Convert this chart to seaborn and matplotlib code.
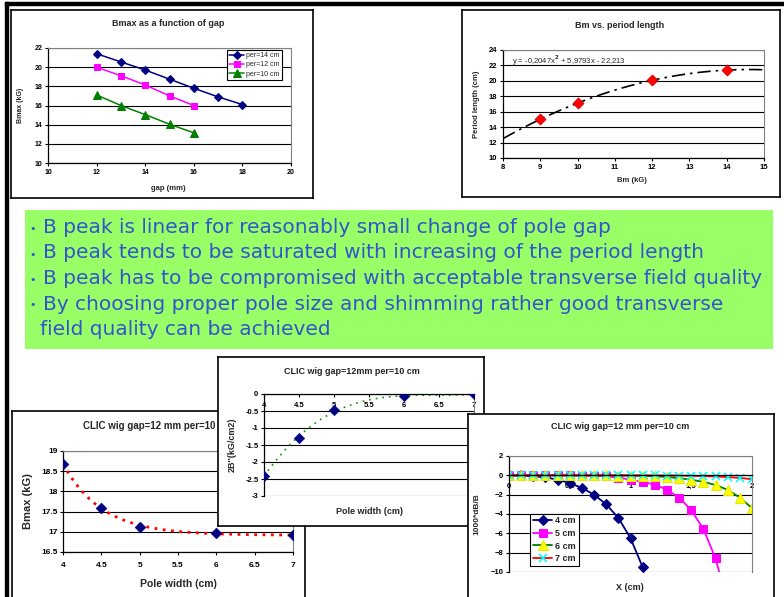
import numpy as np
import pandas as pd
import matplotlib
matplotlib.use("Agg")
import matplotlib.pyplot as plt
from matplotlib.patches import Rectangle
from matplotlib.ticker import FuncFormatter, MultipleLocator
import seaborn as sns

# ---- values ----
gap_14 = [12, 13, 14, 15, 16, 17, 18]
bmax_14 = [21.4, 20.55, 19.7, 18.75, 17.8, 16.9, 16.1]
gap_12 = [12, 13, 14, 15, 16]
bmax_12 = [20.0, 19.1, 18.15, 17.0, 16.0]
gap_10 = [12, 13, 14, 15, 16]
bmax_10 = [17.1, 16.0, 15.05, 14.05, 13.15]

bm_kg = [9, 10, 12, 14]
period_cm = [15.0, 17.15, 20.05, 21.4]
fit_text = "y = -0,2047x$^2$ + 5,9793x - 22,213"

pole_w = [4, 4.5, 5, 6, 7]
bmax_pole = [18.68, 17.6, 17.13, 16.97, 16.92]
b2_pole = [-2.4, -1.3, -0.47, -0.07, 0.0]

x_cm = [0, 0.1, 0.2, 0.3, 0.4, 0.5, 0.6, 0.7, 0.8, 0.9, 1.0,
        1.1, 1.2, 1.3, 1.4, 1.5, 1.6, 1.7, 1.8, 1.9, 2.0]
db_4cm = [0, -0.01, -0.08, -0.22, -0.45, -0.8, -1.3, -2.0, -3.0, -4.4, -6.5, -9.5, -13.9]
db_5cm = [0, 0, 0, 0, 0, -0.01, -0.02, -0.05, -0.1, -0.24, -0.45, -0.7, -0.95,
          -1.5, -2.3, -3.6, -5.55, -8.6, -13.2]
db_6cm = [0, 0, 0, 0, 0, 0, 0, 0, -0.01, -0.02, -0.03, -0.05, -0.1, -0.17,
          -0.3, -0.45, -0.68, -1.0, -1.5, -2.3, -3.4]
db_7cm = [0, 0, 0, 0, 0, 0, 0, 0, 0, 0, 0, 0, -0.01, -0.02, -0.03, -0.05,
          -0.08, -0.12, -0.18, -0.27, -0.4]

bullets = [
    "B peak is linear for reasonably small change of pole gap",
    "B peak tends to be saturated with increasing of the period length",
    "B peak has to be compromised with acceptable transverse field quality",
    "By choosing proper pole size and shimming rather good transverse",
]
bullet_tail = "field quality can be achieved"

sns.set_style("white")
plt.rcParams["font.family"] = ["Liberation Sans", "DejaVu Sans"]
plt.rcParams["font.weight"] = "bold"
plt.rcParams["axes.labelweight"] = "bold"

W, H = 784, 597
fig = plt.figure(figsize=(W / 100, H / 100), dpi=100)


def fig_rect(b):
    x0, y0, x1, y1 = b
    return [x0 / W, 1 - y1 / H, (x1 - x0) / W, (y1 - y0) / H]


def panel(box, z):
    pa = fig.add_axes(fig_rect(box), zorder=z)
    pa.set_xlim(box[0], box[2])
    pa.set_ylim(box[3], box[1])
    pa.set_xticks([])
    pa.set_yticks([])
    pa.set_facecolor("white")
    for s in pa.spines.values():
        s.set_visible(True)
        s.set_color("black")
        s.set_linewidth(1.2)
    return pa


def plot_axes(box, z, fs):
    ax = fig.add_axes(fig_rect(box), zorder=z)
    ax.set_facecolor("white")
    for k in ["left", "bottom"]:
        ax.spines[k].set_color("black")
        ax.spines[k].set_linewidth(0.9)
    for k in ["top", "right"]:
        ax.spines[k].set_color("#808080")
        ax.spines[k].set_linewidth(0.8)
    ax.yaxis.grid(True, color="black", lw=0.8)
    ax.xaxis.grid(False)
    ax.set_axisbelow(True)
    ax.tick_params(direction="out", length=2.5, width=0.8, labelsize=fs, pad=1.5,
                   bottom=True, left=True, colors="black")
    return ax


def exp_trend(x, y, n=120):
    # least squares y = a + b*exp(-k(x-x0)), k picked on a grid
    x = np.asarray(x, float)
    y = np.asarray(y, float)
    best = None
    for k in np.linspace(0.3, 6, 200):
        A = np.column_stack([np.ones(len(x)), np.exp(-k * (x - x[0]))])
        coef = np.linalg.lstsq(A, y, rcond=None)[0]
        err = np.sum((A @ coef - y) ** 2)
        if best is None or err < best[0]:
            best = (err, k, coef)
    _, k, coef = best
    xs = np.linspace(x.min(), x.max(), n)
    return xs, coef[0] + coef[1] * np.exp(-k * (xs - x[0]))


gfmt = FuncFormatter(lambda v, p: "%g" % v)

# ---- slide background ----
bg = fig.add_axes([0, 0, 1, 1], zorder=0)
bg.set_xlim(0, W)
bg.set_ylim(H, 0)
bg.axis("off")
bg.add_patch(Rectangle((5, 2), W, 3, color="black"))
bg.add_patch(Rectangle((5, 2), 3, H, color="black"))
bg.add_patch(Rectangle((25, 210), 748, 139, color="#99ff66", lw=0))
txt_kw = dict(color="#3355cc", fontweight="normal", family=["DejaVu Sans"])
for i, line in enumerate(bullets):
    yb = 233 + i * 25.5
    bg.text(33, yb - 1, "•", fontsize=8, ha="center", va="baseline", **txt_kw)
    bg.text(43, yb, line, fontsize=14.5, va="baseline", **txt_kw)
bg.text(40, 233 + 4 * 25.5, bullet_tail, fontsize=14.5, va="baseline", **txt_kw)

# ---- top left: Bmax vs gap ----
pa = panel((11, 10, 313, 198), 1)
pa.text(168, 24, "Bmax as a function of gap", fontsize=6.5, ha="center", va="center")
pa.text(21, 105, "Bmax (kG)", fontsize=5, rotation=90, ha="center", va="center")
pa.text(168, 188, "gap (mm)", fontsize=5.5, ha="center", va="center")
ax = plot_axes((48, 48, 291, 163), 2, 5)
sns.lineplot(x=gap_14, y=bmax_14, ax=ax, color="#000080", marker="D", markersize=4.5,
             markeredgecolor="#000080", lw=1.1, label="per=14 cm")
sns.lineplot(x=gap_12, y=bmax_12, ax=ax, color="#ff00ff", marker="s", markersize=5,
             markeredgecolor="#ff00ff", lw=1.1, label="per=12 cm")
sns.lineplot(x=gap_10, y=bmax_10, ax=ax, color="#008000", marker="^", markersize=5.5,
             markeredgecolor="#008000", lw=1.1, label="per=10 cm")
ax.set_xlim(10, 20)
ax.set_ylim(10, 22)
ax.xaxis.set_major_locator(MultipleLocator(2))
ax.yaxis.set_major_locator(MultipleLocator(2))
leg = ax.legend(loc="upper right", bbox_to_anchor=(0.963, 0.983), borderaxespad=0,
                fancybox=False, edgecolor="black", framealpha=1, fontsize=5,
                handlelength=2.2, borderpad=0.3, labelspacing=0.35, handletextpad=0.3)
leg.get_frame().set_linewidth(0.8)
for t in leg.get_texts():
    t.set_fontweight("normal")
ax.set_xlabel("")
ax.set_ylabel("")

# ---- top right: Bm vs period length ----
pa = panel((462, 10, 780, 197), 1)
pa.text(620, 25, "Bm vs. period length", fontsize=6.5, ha="center", va="center")
pa.text(477, 104, "Period length (cm)", fontsize=5.5, rotation=90, ha="center", va="center")
pa.text(632, 180, "Bm (kG)", fontsize=5.5, ha="center", va="center")
ax = plot_axes((503, 50, 764, 158), 2, 5.5)
ax.set_xlim(8, 15)
sns.regplot(x=bm_kg, y=period_cm, order=2, ci=None, scatter=False, truncate=False, ax=ax,
            line_kws=dict(color="black", lw=1.2, ls=(0, (8, 3, 1.5, 3))))
sns.scatterplot(x=bm_kg, y=period_cm, ax=ax, marker="D", s=32, color="red",
                edgecolor="#cc0000", linewidth=0.5, zorder=3)
ax.set_xlim(8, 15)
ax.set_ylim(10, 24)
ax.xaxis.set_major_locator(MultipleLocator(1))
ax.yaxis.set_major_locator(MultipleLocator(2))
ax.text(0.035, 0.9, fit_text, transform=ax.transAxes, fontsize=5.5, fontweight="normal",
        va="center")
ax.set_xlabel("")
ax.set_ylabel("")

# ---- bottom left: Bmax vs pole width ----
pa = panel((12, 411, 305, 620), 3)
pa.text(158, 426, "CLIC wig gap=12 mm per=10 cm", fontsize=7, ha="center", va="center")
pa.text(28, 501, "Bmax (kG)", fontsize=8, rotation=90, ha="center", va="center")
pa.text(178, 584, "Pole width (cm)", fontsize=7.5, ha="center", va="center")
ax = plot_axes((63, 451, 293, 552), 4, 6)
tx, ty = exp_trend(pole_w, bmax_pole)
sns.lineplot(x=tx, y=ty, ax=ax, color="red", lw=2, ls=(0, (1, 2)))
sns.scatterplot(x=pole_w, y=bmax_pole, ax=ax, marker="D", s=30, color="#000080",
                edgecolor="#000080", zorder=3)
ax.set_xlim(4, 7)
ax.set_ylim(16.5, 19)
ax.xaxis.set_major_locator(MultipleLocator(0.5))
ax.yaxis.set_major_locator(MultipleLocator(0.5))
ax.xaxis.set_major_formatter(gfmt)
ax.yaxis.set_major_formatter(gfmt)
ax.tick_params(axis="x", pad=5)
ax.set_xlabel("")
ax.set_ylabel("")

# ---- bottom middle: 2B'' vs pole width ----
pa = panel((218, 357, 484, 526), 5)
pa.text(352, 371, "CLIC wig gap=12mm per=10 cm", fontsize=6.5, ha="center", va="center")
pa.text(232, 445, "2B''(kG/cm2)", fontsize=6.5, rotation=90, ha="center", va="center")
pa.text(369, 512, "Pole width (cm)", fontsize=6.5, ha="center", va="center")
ax = plot_axes((264, 394, 474, 496), 6, 5.5)
sns.regplot(x=pole_w, y=b2_pole, order=3, ci=None, scatter=False, ax=ax,
            line_kws=dict(color="#009900", lw=1.2, ls=(0, (1, 3))))
sns.scatterplot(x=pole_w, y=b2_pole, ax=ax, marker="D", s=28, color="#000080",
                edgecolor="#000080", zorder=3)
ax.set_xlim(4, 7)
ax.set_ylim(-3, 0)
ax.spines["bottom"].set_position(("data", 0))
ax.spines["top"].set_visible(False)
ax.xaxis.set_major_locator(MultipleLocator(0.5))
ax.yaxis.set_major_locator(MultipleLocator(0.5))
ax.xaxis.set_major_formatter(gfmt)
ax.yaxis.set_major_formatter(gfmt)
ax.tick_params(axis="x", pad=3)
ax.set_xlabel("")
ax.set_ylabel("")

# ---- bottom right: field quality ----
pa = panel((468, 414, 774, 620), 7)
pa.text(620, 427, "CLIC wig gap=12 mm per=10 cm", fontsize=6.5, ha="center", va="center")
pa.text(477, 514, "1000*dB/B", fontsize=6, rotation=90, ha="center", va="center")
pa.text(630, 588, "X (cm)", fontsize=6.5, ha="center", va="center")
ax = plot_axes((509, 456, 752, 572), 8, 5.5)
sns.lineplot(x=x_cm[:len(db_4cm)], y=db_4cm, ax=ax, color="#000080", marker="D",
             markersize=5, markeredgecolor="#000080", lw=1.3, label="4 cm")
sns.lineplot(x=x_cm[:len(db_5cm)], y=db_5cm, ax=ax, color="#ff00ff", marker="s",
             markersize=5.5, markeredgecolor="#ff00ff", lw=1.3, label="5 cm")
sns.lineplot(x=x_cm, y=db_6cm, ax=ax, color="#008000", marker="^", markersize=6.5,
             markerfacecolor="#ffff00", markeredgecolor="#e6e600", lw=1.3, label="6 cm")
sns.lineplot(x=x_cm, y=db_7cm, ax=ax, color="#ff0000", marker="x", markersize=5.5,
             markeredgecolor="#00ffff", markeredgewidth=1.2, lw=1.3, label="7 cm")
ax.set_xlim(0, 2)
ax.set_ylim(-10, 2)
ax.spines["bottom"].set_position(("data", 0))
ax.spines["top"].set_color("#808080")
ax.xaxis.set_major_locator(MultipleLocator(0.5))
ax.yaxis.set_major_locator(MultipleLocator(2))
ax.xaxis.set_major_formatter(FuncFormatter(lambda v, p: ("%g" % v).replace(".", ",")))
ax.tick_params(axis="x", pad=3)
leg = ax.legend(loc="lower left", bbox_to_anchor=(0.086, 0.052), borderaxespad=0,
                fancybox=False, edgecolor="black", framealpha=1, fontsize=6.5,
                handlelength=2.2, borderpad=0.3, labelspacing=0.4, handletextpad=0.3)
leg.get_frame().set_linewidth(0.8)
ax.set_xlabel("")
ax.set_ylabel("")

fig.savefig("out.png", dpi=100)
